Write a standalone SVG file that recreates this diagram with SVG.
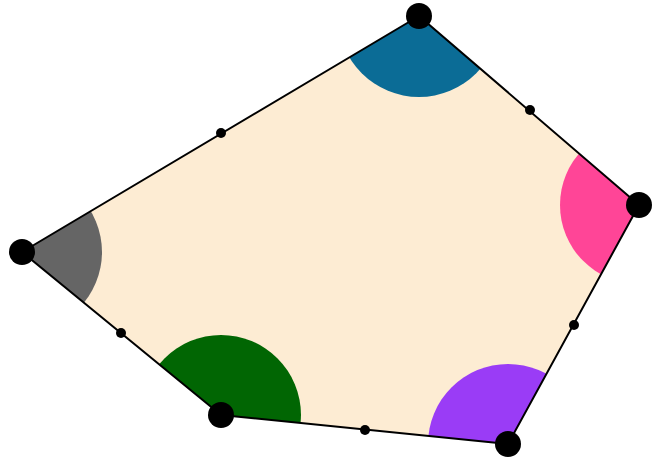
<svg xmlns="http://www.w3.org/2000/svg" width="654" height="463" viewBox="0 0 654 463">
<style>
.vertex{fill:#000}
.mid{fill:#000}
.edge{stroke:#000;stroke-width:2;fill:none;stroke-linecap:round}
</style>
<defs>
<clipPath id="poly"><polygon points="419,16 639,205 508,444 221,415 22,252"/></clipPath>
</defs>
<rect width="654" height="463" fill="#fff"/>
<polygon id="face" points="419,16 639,205 508,444 221,415 22,252" fill="#fdecd3"/>
<g id="angles" clip-path="url(#poly)">
<circle cx="419" cy="16" r="81" fill="#0b6c96"/>
<circle cx="639" cy="205" r="79" fill="#ff4597"/>
<circle cx="508" cy="444" r="80" fill="#9a3cf6"/>
<circle cx="221" cy="415" r="80" fill="#016603"/>
<circle cx="22" cy="252" r="80" fill="#656565"/>
</g>
<g id="connectors">
<line class="edge" x1="419" y1="16" x2="639" y2="205"/>
<line class="edge" x1="639" y1="205" x2="508" y2="444"/>
<line class="edge" x1="508" y1="444" x2="221" y2="415"/>
<line class="edge" x1="221" y1="415" x2="22" y2="252"/>
<line class="edge" x1="22" y1="252" x2="419" y2="16"/>
</g>
<g id="mid1"><circle class="mid" cx="221" cy="133" r="5"/></g>
<g id="mid2"><circle class="mid" cx="530" cy="110" r="5"/></g>
<g id="mid3"><circle class="mid" cx="574" cy="325" r="5"/></g>
<g id="mid4"><circle class="mid" cx="365" cy="430" r="5"/></g>
<g id="mid5"><circle class="mid" cx="121" cy="333" r="5"/></g>
<g id="v1"><circle class="vertex" cx="419" cy="16" r="13"/></g>
<g id="v2"><circle class="vertex" cx="639" cy="205" r="13"/></g>
<g id="v3"><circle class="vertex" cx="508" cy="444" r="13"/></g>
<g id="v4"><circle class="vertex" cx="221" cy="415" r="13"/></g>
<g id="v5"><circle class="vertex" cx="22" cy="252" r="13"/></g>
</svg>
